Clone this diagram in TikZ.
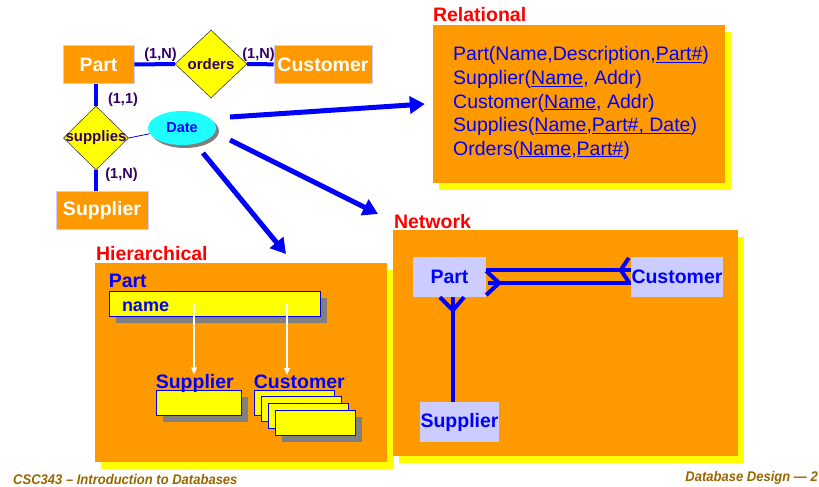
\documentclass[tikz,border=0pt]{standalone}
\usepackage{fontspec}
\setmainfont{Liberation Sans}
\usepackage{graphicx}
\usepackage{tikz}
\usetikzlibrary{shadows}
\usetikzlibrary{arrows.meta,shapes.geometric}
\usetikzlibrary{calc}
\definecolor{pporange}{RGB}{255,153,0}
\definecolor{ppyellow}{RGB}{255,255,0}
\definecolor{ppblue}{RGB}{0,0,255}
\definecolor{pplav}{RGB}{204,204,255}
\definecolor{ppcyan}{RGB}{30,255,255}
\definecolor{pppurple}{RGB}{51,0,102}
\definecolor{ppbrown}{RGB}{153,102,0}
\newcommand{\bigfont}{\bfseries\fontsize{19.5}{22}\selectfont}
\newcommand{\keyfield}[1]{\underline{\smash{#1}}}
\tikzstyle{entity}=[rectangle,fill=pporange,draw=pplav,line width=0.8pt,text=white,font=\bigfont,minimum height=38pt,inner sep=0pt]
\tikzstyle{reldiamond}=[diamond,fill=ppyellow,draw=black!75,line width=0.6pt,inner sep=0pt]
\tikzstyle{dlabel}=[text=pppurple,font=\bfseries\fontsize{15}{17}\selectfont,inner sep=0pt]
\tikzstyle{card}=[text=pppurple,font=\bfseries\fontsize{14.5}{16}\selectfont,inner sep=0pt]
\tikzstyle{erline}=[draw=ppblue,line width=4pt]
\tikzstyle{attrib}=[ellipse,fill=ppcyan,text=ppblue,font=\bfseries\fontsize{14.5}{16}\selectfont,minimum width=68pt,minimum height=34pt,inner sep=0pt,drop shadow={fill=gray,opacity=1,shadow xshift=3pt,shadow yshift=-3pt}]
\tikzstyle{bigarrow}=[draw=ppblue,line width=5pt,-{Triangle[length=15pt,width=17pt]}]
\tikzstyle{panel}=[rectangle,fill=pporange,inner sep=0pt,drop shadow={fill=ppyellow,opacity=1,shadow xshift=6pt,shadow yshift=-7pt}]
\tikzstyle{paneltitle}=[text=red,font=\bigfont,inner sep=0pt,anchor=base west]
\tikzstyle{reltext}=[text=ppblue,font=\fontsize{19.5}{22}\selectfont,inner sep=0pt,anchor=base west]
\tikzstyle{recbox}=[rectangle,fill=ppyellow,draw=ppblue,line width=0.8pt,minimum height=25pt,inner sep=0pt,drop shadow={fill=gray,opacity=1,shadow xshift=7pt,shadow yshift=-7pt}]
\tikzstyle{blab}=[text=ppblue,font=\bigfont,inner sep=0pt,anchor=base west]
\tikzstyle{harrow}=[draw=white,line width=1.2pt,-{Triangle[length=7pt,width=6pt]}]
\tikzstyle{netnode}=[rectangle,fill=pplav,text=ppblue,font=\bigfont,minimum height=40pt,inner sep=0pt]
\tikzstyle{netline}=[draw=ppblue,line width=4pt]
\tikzstyle{footer}=[text=ppbrown,font=\bfseries\itshape\fontsize{14}{16}\selectfont,inner sep=0pt]

\begin{document}
\begin{tikzpicture}[x=1pt,y=-1pt]
    \path[use as bounding box,fill=white] (0,0) rectangle (819,487);

    % E-R diagram
    \foreach \pos/\name/\w in {{(98.5,64.5)/Part/71}, {(323,64.5)/Customer/98}, {(102,210.5)/Supplier/92}}
        \node[entity, minimum width=\w pt] (\name) at \pos {\name};
    \node[reldiamond, minimum width=72pt, minimum height=68pt, label={[dlabel]center:orders}] (orders) at (211,64) {};
    \node[reldiamond, minimum width=65pt, minimum height=64pt, label={[dlabel]center:supplies}] (supplies) at (96,138) {};
    \node[attrib] (Date) at (182,128) {Date};

             \draw[erline] (Part) -- (orders);
             \draw[erline] (orders) -- (Customer);
             \draw[erline] (supplies.north) -- (supplies.north |- Part.south);
             \draw[erline] (supplies.south) -- (supplies.south |- Supplier.north);
             \draw[ppblue, line width=0.8pt] (supplies.east) -- (Date.190);

    \node[card] (c1) at (160.5,54.5) {(1,N)};
    \node[card] (c2) at (258.5,54.5) {(1,N)};
    \node[card] (c3) at (123,100) {(1,1)};
    \node[card] (c4) at (121.5,174.5) {(1,N)};

    % the three panels
    \node[panel, minimum width=292pt, minimum height=158pt] (relbox) at (579,104) {};
    \node[panel, minimum width=292pt, minimum height=199pt, drop shadow={fill=ppyellow,opacity=1,shadow xshift=7pt,shadow yshift=-7pt}] (hiebox) at (241,362.5) {};
    \node[panel, minimum width=345pt, minimum height=226pt] (netbox) at (565.5,343) {};
    \node[paneltitle] (reltitle) at ([yshift=3pt]relbox.north west) {Relational};
    \node[paneltitle] (hietitle) at ([xshift=1pt,yshift=2pt]hiebox.north west) {Hierarchical};
    \node[paneltitle] (nettitle) at ([xshift=1pt,yshift=1.5pt]netbox.north west) {Network};

    \coordinate (d1) at (230,117);
    \coordinate (d2) at (230,140);
    \coordinate (d3) at (203,153);
    \coordinate (e2) at (378,214);
    \coordinate (e3) at (286,254);
             \draw[bigarrow] (d1) -- ([xshift=-8pt]relbox.west);
             \draw[bigarrow] (d2) -- (e2);
             \draw[bigarrow] (d3) -- (e3);

    % relational
    \foreach \txt [count=\i from 0] in {{Part(Name,Description,\keyfield{Part\#})}, {Supplier(\keyfield{Name}, Addr)}, {Customer(\keyfield{Name}, Addr)}, {Supplies(\keyfield{Name},\keyfield{Part\#, Date})}, {Orders(\keyfield{Name},\keyfield{Part\#})}}
        \node[reltext] (rel\i) at (453,61+23.5*\i) {\txt};

    % hierarchical
    \node[recbox, minimum width=211pt, text width=185pt, inner xsep=13pt, text height=15pt, text depth=0pt, align=left, font=\bfseries\fontsize{18}{20}\selectfont, text=ppblue] (namebar) at (214.5,303.5) {name};
    \node[blab] (hpart) at ([yshift=3pt]namebar.north west) {Part};
    \node[recbox, minimum width=85pt] (hsup) at (198.5,402.5) {};
    \foreach \i in {0,...,3}
        \node[recbox, minimum width=80pt] (hcus\i) at (294+7*\i,402.5+6.7*\i) {};
    \node[blab] (hsuplab) at ([yshift=1pt]hsup.north west) {Supplier};
    \node[blab] (hcuslab) at ([yshift=1pt]hcus0.north west) {Customer};
    \coordinate (h1) at (194,304);
    \coordinate (h2) at (287,304);
             \draw[harrow] (h1) -- (h1 |- hsuplab.north);
             \draw[harrow] (h2) -- (h2 |- hcuslab.north);

    % network
    \node[netnode, minimum width=73pt] (netPart) at (449.5,277) {Part};
    \node[netnode, minimum width=92pt] (netCust) at (677,277) {Customer};
    \node[netnode, minimum width=79pt] (netSup) at (459.5,422) {Supplier};

             \draw[netline] ([yshift=7pt]netPart.east) -- ([yshift=7pt]netCust.west);
             \draw[netline] ([yshift=-5.5pt,xshift=2pt]netPart.east) -- ([yshift=-5.5pt]netCust.west);
             \draw[netline] ([xshift=3.5pt]netPart.south) -- ([xshift=3.5pt]netPart.south |- netSup.north);
             \draw[netline] ($(netCust.west)+(-2,-19)$) -- ($(netCust.west)+(-10,-7)$) -- ($(netCust.west)+(-2,5)$);
             \draw[netline] ($(netPart.east)+(0,-6)$) -- ($(netPart.east)+(13,6)$) -- ($(netPart.east)+(0,18)$);
             \draw[netline] ($(netPart.south)+(-9.5,0)$) -- ($(netPart.south)+(3.5,13)$) -- ($(netPart.south)+(14.5,0)$);

    % footer
    \node[footer, anchor=west] (foot1) at (13,479) {\scalebox{0.93}[1]{CSC343 – Introduction to Databases}};
    \node[footer, anchor=east] (foot2) at (818,478) {\scalebox{0.93}[1]{Database Design — 2}};
   \end{tikzpicture}
\end{document}
